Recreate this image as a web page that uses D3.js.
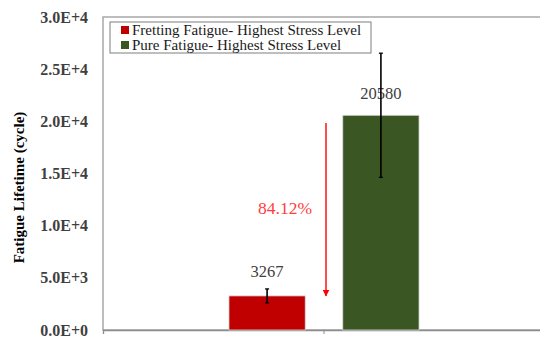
<!DOCTYPE html>
<html>
<head>
<meta charset="utf-8">
<script src="https://cdn.jsdelivr.net/npm/d3@7"></script>
<style>
  html, body { margin: 0; padding: 0; background: #fff; }
  svg { display: block; }
</style>
</head>
<body>
<svg id="chart" width="540" height="338"></svg>
<script>
// Fatigue lifetime at the highest stress level
const category = ["Highest Stress Level"];
const seriesNames = ["Fretting Fatigue- Highest Stress Level", "Pure Fatigue- Highest Stress Level"];
const seriesValues = [3267, 20580];
const seriesErrors = [670, 5950];
const seriesColors = ["#c00000", "#3a5723"];
const yTicks = [0, 5000, 10000, 15000, 20000, 25000, 30000];
const reductionLabel = "84.12%";
const arrowFrom = 19850;   // top of the reduction arrow, in cycles

const SERIF = '"Liberation Serif"';

const svg = d3.select("#chart");
const W = 540, H = 338;
const m = { left: 103, top: 17, right: -5, bottom: 8 };
const plotW = W - m.left - m.right;
const plotH = H - m.top - m.bottom;

const g = svg.append("g").attr("transform", `translate(${m.left},${m.top})`);

const y = d3.scaleLinear().domain([0, 30000]).range([plotH, 0]);
const x0 = d3.scaleBand().domain(category).range([0, plotW]).paddingInner(0).paddingOuter(0);
const x1 = d3.scaleBand().domain(seriesNames).range([x0.bandwidth() * 0.285, x0.bandwidth() * 0.715]).paddingInner(0.33).paddingOuter(0);

// plot frame
g.append("rect")
  .attr("x", 0).attr("y", 0)
  .attr("width", plotW).attr("height", plotH)
  .attr("fill", "none").attr("stroke", "#9a9a9a").attr("stroke-width", 1.3);

// y axis labels
const yAxis = d3.axisLeft(y).tickValues(yTicks).tickSize(0).tickPadding(15)
  .tickFormat(d => {
    const e = d === 0 ? 0 : Math.floor(Math.log10(d));
    const mant = d === 0 ? 0 : d / Math.pow(10, e);
    return mant.toFixed(1) + "E+" + e;
  });
const ya = g.append("g").call(yAxis);
ya.attr("font-family", null).attr("font-size", null);
ya.select(".domain").remove();
ya.selectAll("text")
  .style("font-family", SERIF)
  .style("font-size", "16px").style("font-weight", "bold").attr("fill", "#3f3f3f");

// x axis baseline with one category tick
const xa = g.append("g").attr("transform", `translate(0,${plotH})`)
  .call(d3.axisBottom(x0).tickSize(4).tickFormat(""));
xa.select(".domain").attr("stroke", "#8c8c8c").attr("stroke-width", 1.3);
xa.selectAll(".tick line").attr("stroke", "#8c8c8c");

// y axis title
svg.append("text")
  .attr("transform", `translate(24,${m.top + plotH / 2 + 14}) rotate(-90)`)
  .attr("text-anchor", "middle")
  .style("font-family", SERIF)
  .style("font-size", "15px").style("font-weight", "bold").attr("fill", "#000")
  .text("Fatigue Lifetime (cycle)");

// bars
const cx = x0(category[0]);
const bars = seriesNames.map((s, i) => ({ s, v: seriesValues[i], e: seriesErrors[i], c: seriesColors[i] }));
g.selectAll("rect.bar").data(bars).join("rect")
  .attr("class", "bar")
  .attr("x", d => cx + x1(d.s))
  .attr("width", x1.bandwidth())
  .attr("y", d => y(d.v))
  .attr("height", d => y(0) - y(d.v))
  .attr("fill", d => d.c)
  .attr("stroke", "#d9d9d9").attr("stroke-width", 0.8);

// value labels
g.selectAll("text.val").data(bars).join("text")
  .attr("class", "val")
  .attr("x", d => cx + x1(d.s) + x1.bandwidth() / 2)
  .attr("y", d => y(d.v + d.e) + (d.v > 10000 ? 46 : -12))
  .attr("text-anchor", "middle")
  .style("font-family", SERIF)
  .style("font-size", "16.5px").attr("fill", "#404040")
  .text(d => d.v);

// error bars
const eb = g.selectAll("g.err").data(bars).join("g").attr("class", "err");
eb.append("line")
  .attr("x1", d => cx + x1(d.s) + x1.bandwidth() / 2)
  .attr("x2", d => cx + x1(d.s) + x1.bandwidth() / 2)
  .attr("y1", d => y(d.v + d.e)).attr("y2", d => y(d.v - d.e))
  .attr("stroke", "#000").attr("stroke-width", 1.6);
[1, -1].forEach(sign => {
  eb.append("line")
    .attr("x1", d => cx + x1(d.s) + x1.bandwidth() / 2 - 2)
    .attr("x2", d => cx + x1(d.s) + x1.bandwidth() / 2 + 2)
    .attr("y1", d => y(d.v + sign * d.e)).attr("y2", d => y(d.v + sign * d.e))
    .attr("stroke", "#000").attr("stroke-width", 1.3);
});

// reduction arrow between the two levels
const ax = cx + x0.bandwidth() / 2 + 2;
svg.append("defs").append("marker")
  .attr("id", "arrowhead").attr("viewBox", "0 0 10 10")
  .attr("refX", 9).attr("refY", 5)
  .attr("markerWidth", 5).attr("markerHeight", 5)
  .attr("orient", "auto")
  .append("path").attr("d", "M0,0 L10,5 L0,10 z").attr("fill", "#ff0000");
g.append("line")
  .attr("x1", ax).attr("x2", ax)
  .attr("y1", y(arrowFrom)).attr("y2", y(seriesValues[0]))
  .attr("stroke", "#ff0000").attr("stroke-width", 1.4)
  .attr("marker-end", "url(#arrowhead)");
g.append("text")
  .attr("x", ax - 41).attr("y", y((arrowFrom + seriesValues[0]) / 2) + 5)
  .attr("text-anchor", "middle")
  .style("font-family", SERIF)
  .style("font-size", "17.5px").attr("fill", "#ff4040")
  .text(reductionLabel);

// legend
const lg = g.append("g").attr("transform", "translate(7,5)");
lg.append("rect")
  .attr("x", 0).attr("y", 0).attr("width", 261).attr("height", 31)
  .attr("fill", "#fff").attr("stroke", "#7f7f7f").attr("stroke-width", 1);
const li = lg.selectAll("g.item").data(bars).join("g")
  .attr("class", "item")
  .attr("transform", (d, i) => `translate(11,${8 + i * 15})`);
li.append("rect")
  .attr("x", 0).attr("y", -4).attr("width", 8).attr("height", 8)
  .attr("fill", d => d.c);
li.append("text")
  .attr("x", 11).attr("y", 5)
  .style("font-family", SERIF)
  .style("font-size", "15px").attr("fill", "#1a1a1a")
  .text(d => d.s);
</script>
</body>
</html>
